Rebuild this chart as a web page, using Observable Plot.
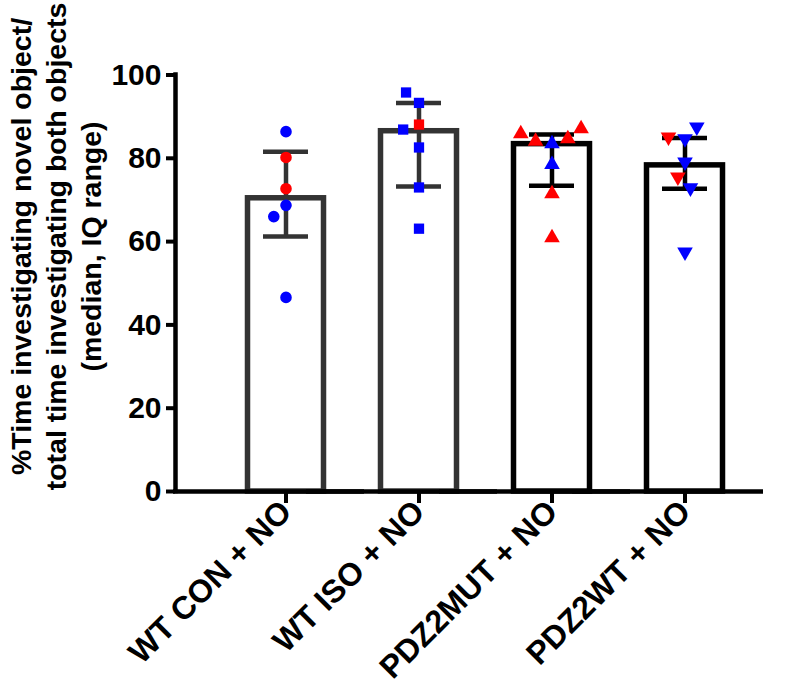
<!DOCTYPE html>
<html>
<head>
<meta charset="utf-8">
<script src="https://cdn.jsdelivr.net/npm/d3@7"></script>
<script src="https://cdn.jsdelivr.net/npm/@observablehq/plot@0.6"></script>
<style>
  html, body { margin: 0; padding: 0; background: #fff; }
  #chart svg { display: block; }
</style>
</head>
<body>
<div id="chart"></div>
<script>
// ---- data ----
const groups = ["WT CON + NO", "WT ISO + NO", "PDZ2MUT + NO", "PDZ2WT + NO"];
const medians = [70.4, 86.5, 83.4, 78.3];
const q1s = [61.2, 73.2, 73.4, 72.7];
const q3s = [81.6, 93.3, 85.7, 84.9];

const wtConValues  = [86.4, 80.2, 72.7, 68.7, 66.0, 46.6];
const wtConCohort  = ["B", "A", "A", "B", "B", "B"];
const wtIsoValues  = [88.1, 93.3, 95.8, 86.9, 82.6, 73.0, 63.1];
const wtIsoCohort  = ["A", "B", "B", "B", "B", "B", "B"];
const mutValues    = [83.5, 84.1, 84.7, 85.9, 87.1, 78.5, 71.5, 60.9];
const mutCohort    = ["B", "A", "A", "A", "A", "B", "A", "A"];
const wtPdzValues  = [84.7, 85.1, 87.5, 79.1, 75.5, 72.9, 57.5];
const wtPdzCohort  = ["B", "A", "B", "B", "A", "B", "B"];

const yTicks = [0, 20, 40, 60, 80, 100];
const yTitle = "%Time investigating novel object/\ntotal time investigating both objects\n(median, IQ range)";

// ---- tables built from the arrays ----
const summary = groups.map((g, i) => ({group: g, median: medians[i], q1: q1s[i], q3: q3s[i]}));
const pointSets = [[wtConValues, wtConCohort], [wtIsoValues, wtIsoCohort], [mutValues, mutCohort], [wtPdzValues, wtPdzCohort]];
const points = pointSets.flatMap(([vals, coh], i) => vals.map((v, j) => ({group: groups[i], value: v, cohort: coh[j]})));

// ---- styles ----
const cohortColor = {A: "#ff0000", B: "#0000ff"};
const barColor = g => (g.startsWith("WT") ? "#333333" : "#000000");
const triangleDown = {
  draw(context, size) {
    const s3 = Math.sqrt(3);
    const y = -Math.sqrt(size / (s3 * 3));
    context.moveTo(0, -y * 2);
    context.lineTo(-s3 * y, y);
    context.lineTo(s3 * y, y);
    context.closePath();
  }
};

const W = 800, H = 691;
const mL = 218.5, mR = 49.5, mT = 74.5, mB = 200;
const axisGap = 44; // y axis sits this far left of the first facet
const center = () => 0;   // middle of each facet's band (x domain is [-1, 1])
const leftEdge = () => -1;

const chart = Plot.plot({
  width: W,
  height: H,
  marginLeft: mL,
  marginRight: mR,
  marginTop: mT,
  marginBottom: mB,
  style: {fontFamily: "'Liberation Sans', Arial, Helvetica, sans-serif", fontWeight: "bold", fontSize: "30px", color: "#000", background: "#fff", overflow: "visible"},
  fx: {domain: groups, padding: 0},
  x: {domain: [-1, 1], axis: null},
  y: {domain: [0, 100]},
  color: {type: "identity"},
  symbol: {domain: groups, range: [d3.symbolCircle, d3.symbolSquare, d3.symbolTriangle, triangleDown]},
  marks: [
    Plot.barY(summary, {fx: "group", y1: () => 0, y2: "median", fill: "#fff", stroke: d => barColor(d.group), strokeWidth: 5.5, insetLeft: 28.5, insetRight: 28.5}),
    Plot.ruleX(summary, {fx: "group", x: center, y1: "q1", y2: "q3", stroke: d => barColor(d.group), strokeWidth: 4.5}),
    Plot.tickY(summary, {fx: "group", y: "q1", stroke: d => barColor(d.group), strokeWidth: 4.5, insetLeft: 44, insetRight: 44}),
    Plot.tickY(summary, {fx: "group", y: "q3", stroke: d => barColor(d.group), strokeWidth: 4.5, insetLeft: 44, insetRight: 44}),
    Plot.dot(points, Plot.dodgeX({anchor: "middle", padding: 5}, {fx: "group", y: "value", r: 5.8, symbol: "group", fill: d => cohortColor[d.cohort], stroke: "none"})),
    Plot.ruleY([0], {stroke: "#000", strokeWidth: 4.5, insetLeft: -(axisGap + 2), insetRight: -12}),
    Plot.ruleX([groups[0]], {fx: d => d, x: leftEdge, y1: () => 0, y2: () => 100, stroke: "#000", strokeWidth: 4.5, strokeLinecap: "square", dx: -axisGap}),
    Plot.axisY({ticks: yTicks, tickSize: 9, tickPadding: 5, strokeWidth: 4, dx: -axisGap, label: null}),
    Plot.axisFx({anchor: "bottom", tickSize: 12, tickPadding: 3, tickRotate: -45, strokeWidth: 4, fontSize: 32, label: null}),
    Plot.text([groups[0]], {fx: d => d, x: leftEdge, text: () => yTitle, frameAnchor: "left", rotate: -90, dx: 54 - mL, dy: 246 - (mT + (H - mB)) / 2, fontSize: 28.5, fontWeight: "bold", lineHeight: 1.23, textAnchor: "middle", lineAnchor: "middle"})
  ]
});
document.getElementById("chart").appendChild(chart);
</script>
</body>
</html>
